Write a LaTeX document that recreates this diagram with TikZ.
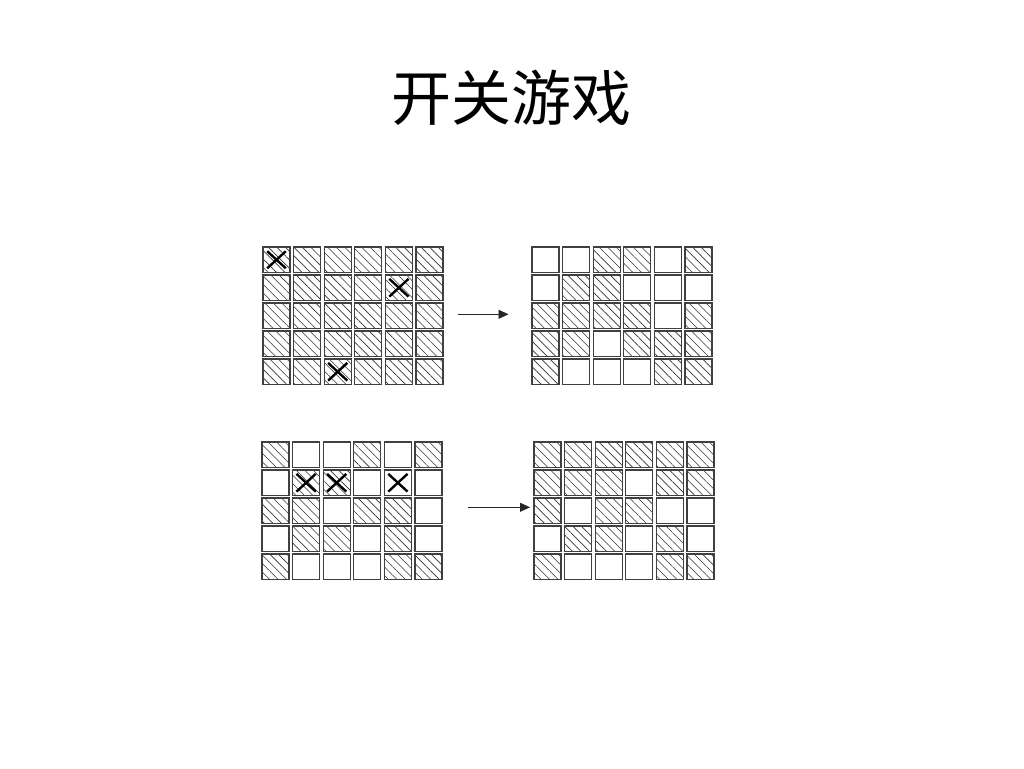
\documentclass[tikz,border=0pt]{standalone}
\usepackage{fontspec}
\newfontfamily\cjk{Noto Sans CJK SC}
\usetikzlibrary{patterns.meta,arrows.meta}
\tikzset{
  cellbox/.style={draw=black!75, line width=1.2pt, rectangle, inner sep=0pt,
    minimum width=27pt, minimum height=25.5pt, fill=white},
  hatched/.style={pattern={Lines[angle=-45,distance=6pt,line width=0.6pt]}, pattern color=black!80},
  crossline/.style={line width=2.4pt, black},
  flowarrow/.style={line width=0.8pt, black!85, -{Triangle[length=10pt,width=9pt]}},
}
\newcommand\mygrid[4]{%
  \foreach \v [count=\i from 0] in {#4} {
    \pgfmathtruncatemacro\rr{\i/6}
    \pgfmathtruncatemacro\cc{mod(\i,6)}
    \ifnum\v=1
      \node[cellbox,hatched] (#1-\rr-\cc) at ({#2+13.5+30.6*\cc},{#3+12.75+28*\rr}) {};
    \else
      \node[cellbox] (#1-\rr-\cc) at ({#2+13.5+30.6*\cc},{#3+12.75+28*\rr}) {};
    \fi
  }}
\newcommand\mycross[1]{%
  \draw[crossline] ([shift={(4.5pt,-4.5pt)}]#1.north west) -- ([shift={(-4.5pt,4.5pt)}]#1.south east);
  \draw[crossline] ([shift={(4.5pt,4.5pt)}]#1.south west) -- ([shift={(-4.5pt,-4.5pt)}]#1.north east);}
\begin{document}
\begin{tikzpicture}[x=1pt,y=-1pt]
\useasboundingbox[fill=white] (0,0) rectangle (1024,768);
\node[font=\cjk\fontsize{60}{62}\selectfont, inner sep=0pt] (title) at (511,98) {开关游戏};
% grid 1
\mygrid{ga}{263}{247}{1,1,1,1,1,1, 1,1,1,1,1,1, 1,1,1,1,1,1, 1,1,1,1,1,1, 1,1,1,1,1,1}
\mycross{ga-0-0}
\mycross{ga-1-4}
\mycross{ga-4-2}
% grid 2
\mygrid{gb}{532}{247}{0,0,1,1,0,1, 0,1,1,0,0,0, 1,1,1,1,0,1, 1,1,0,1,1,1, 1,0,0,0,1,1}
% grid 3
\mygrid{gc}{262}{442}{1,0,0,1,0,1, 0,1,1,0,0,0, 1,1,0,1,1,0, 0,1,1,0,1,0, 1,0,0,0,1,1}
\mycross{gc-1-1}
\mycross{gc-1-2}
\mycross{gc-1-4}
% grid 4
\mygrid{gd}{534}{442}{1,1,1,1,1,1, 1,1,1,0,1,1, 1,0,1,1,0,0, 0,1,1,0,1,0, 1,0,0,0,1,1}
% arrows
\coordinate (a1s) at (457.7,314.3);
\coordinate (a1e) at (508.5,314.3);
\coordinate (a2s) at (467.7,507.3);
\coordinate (a2e) at (530,507.3);
\draw[flowarrow] (a1s) -- (a1e);
\draw[flowarrow] (a2s) -- (a2e);
\end{tikzpicture}
\end{document}
